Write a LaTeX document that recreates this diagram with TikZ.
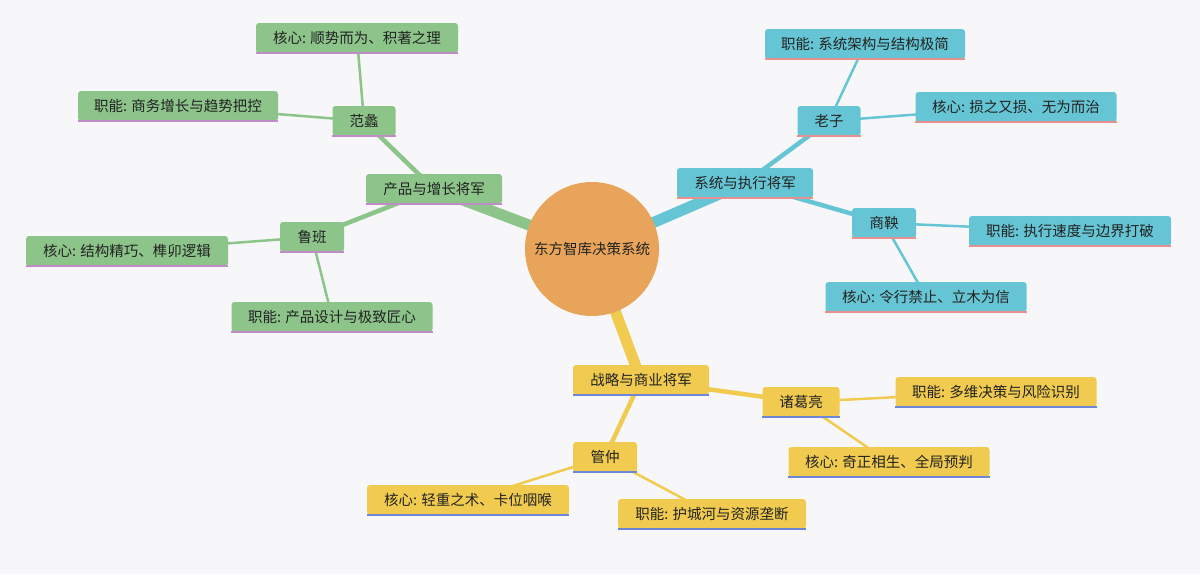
\documentclass[tikz,border=0pt]{standalone}
\usepackage{fontspec}
\setmainfont{Noto Sans CJK SC}
\definecolor{bg}{HTML}{F7F7F9}
\definecolor{gfill}{HTML}{8CC48A}
\definecolor{gline}{HTML}{C08CC8}
\definecolor{bfill}{HTML}{66C5D4}
\definecolor{bline}{HTML}{E89090}
\definecolor{yfill}{HTML}{F0CB50}
\definecolor{yline}{HTML}{6E86D8}
\definecolor{cfill}{HTML}{E8A45A}
\definecolor{txt}{HTML}{222222}
\pgfdeclarelayer{bglayer}
\pgfdeclarelayer{links}
\pgfsetlayers{bglayer,links,main}
\tikzset{
 box/.style n args={3}{fill=#1,rounded corners=3pt,minimum width=#3,minimum height=30pt,inner sep=0pt,text=txt,font=\fontsize{14.5}{17}\selectfont,
   append after command={(\tikzlastnode.south west) edge[draw=#2,line width=2pt] (\tikzlastnode.south east)}},
 gb/.style={box={gfill}{gline}{#1}},
 bb/.style={box={bfill}{bline}{#1}},
 yb/.style={box={yfill}{yline}{#1}},
 big/.style={line width=11pt},
 mid/.style={line width=4.5pt},
 thin/.style={line width=2.5pt},
}
\begin{document}
\begin{tikzpicture}[x=1pt,y=-1pt]
\begin{pgfonlayer}{bglayer}
\fill[bg] (0,0) rectangle (1200,574);
\end{pgfonlayer}
\useasboundingbox (0,0) rectangle (1200,574);
% green
\node[gb=202pt] (g1) at (357,38) {核心: 顺势而为、积著之理};
\node[gb=200pt] (g2) at (178,106) {职能: 商务增长与趋势把控};
\node[gb=63pt] (fl) at (364,121) {范蠡};
\node[gb=136pt] (G) at (434,189) {产品与增长将军};
\node[gb=64pt] (lb) at (312,237) {鲁班};
\node[gb=202pt] (g3) at (127,251) {核心: 结构精巧、榫卯逻辑};
\node[gb=201pt] (g4) at (332,317) {职能: 产品设计与极致匠心};
% blue
\node[bb=200pt] (b1) at (865,44) {职能: 系统架构与结构极简};
\node[bb=63pt] (lz) at (829,121) {老子};
\node[bb=201pt] (b2) at (1016,107) {核心: 损之又损、无为而治};
\node[bb=136pt] (B) at (745,183) {系统与执行将军};
\node[bb=64pt] (sy) at (884,223) {商鞅};
\node[bb=202pt] (b3) at (1070,231) {职能: 执行速度与边界打破};
\node[bb=201pt] (b4) at (926,297) {核心: 令行禁止、立木为信};
% yellow
\node[yb=136pt] (Y) at (641,380) {战略与商业将军};
\node[yb=77pt] (zg) at (801,402) {诸葛亮};
\node[yb=201pt] (y1) at (996,392) {职能: 多维决策与风险识别};
\node[yb=201pt] (y2) at (889,462) {核心: 奇正相生、全局预判};
\node[yb=64pt] (gz) at (605,457) {管仲};
\node[yb=202pt] (y3) at (468,500) {核心: 轻重之术、卡位咽喉};
\node[yb=188pt] (y4) at (712,514) {职能: 护城河与资源垄断};
% center
\node[circle,fill=cfill,minimum size=134pt,inner sep=0pt,text=txt,font=\fontsize{14.5}{17}\selectfont] (C) at (592,249) {东方智库决策系统};
% connectors
\begin{pgfonlayer}{links}
\draw[big,gfill] (C.center) -- (G.center);
\draw[big,bfill] (C.center) -- (B.center);
\draw[big,yfill] (C.center) -- (Y.center);
\draw[mid,gfill] (G.center) -- (fl.center);
\draw[mid,gfill] (G.center) -- (lb.center);
\draw[mid,bfill] (B.center) -- (lz.center);
\draw[mid,bfill] (B.center) -- (sy.center);
\draw[mid,yfill] (Y.center) -- (zg.center);
\draw[mid,yfill] (Y.center) -- (gz.center);
\draw[thin,gfill] (fl.center) -- (g1.center);
\draw[thin,gfill] (fl.center) -- (g2.center);
\draw[thin,gfill] (lb.center) -- (g3.center);
\draw[thin,gfill] (lb.center) -- (g4.center);
\draw[thin,bfill] (lz.center) -- (b1.center);
\draw[thin,bfill] (lz.center) -- (b2.center);
\draw[thin,bfill] (sy.center) -- (b3.center);
\draw[thin,bfill] (sy.center) -- (b4.center);
\draw[thin,yfill] (zg.center) -- (y1.center);
\draw[thin,yfill] (zg.center) -- (y2.center);
\draw[thin,yfill] (gz.center) -- (y3.center);
\draw[thin,yfill] (gz.center) -- (y4.center);
\end{pgfonlayer}
\end{tikzpicture}
\end{document}
